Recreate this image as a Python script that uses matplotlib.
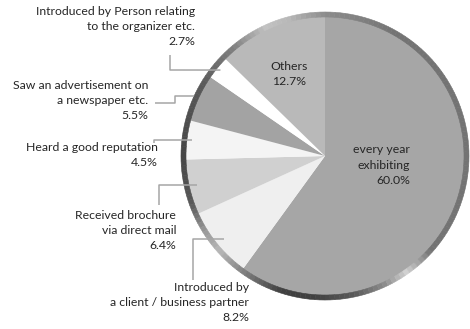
import numpy as np
import matplotlib
matplotlib.use("Agg")
from matplotlib import pyplot as plt

# slice values, clockwise from 12 o'clock
labels = ["every year\nexhibiting", "Introduced by\na client / business partner",
          "Received brochure\nvia direct mail", "Heard a good reputation",
          "Saw an advertisement on\na newspaper etc.",
          "Introduced by Person relating\nto the organizer etc.", "Others"]
values = [60.0, 8.2, 6.4, 4.5, 5.5, 2.7, 12.7]
colors = ["#a6a6a6", "#efefef", "#d0d0d0", "#f4f4f4", "#a3a3a3", "#ffffff", "#b9b9b9"]

plt.rcParams['font.family'] = ['Lato', 'DejaVu Sans']
TXT = "#262626"
LEAD = "#a6a6a6"

W, H = 470, 329
CX, CY, R = 325, 156, 144


def px(x, y):
    # pixel position -> data units (pie radius = 1)
    return (x - CX) / R, (CY - y) / R


fig = plt.figure(figsize=(W / 100, H / 100), dpi=100)
ax = fig.add_axes([0, 0, 1, 1])

rim = 5 / R
wedges, _ = ax.pie(values, colors=colors, startangle=90, counterclock=False,
                   radius=1 - rim + 0.005, wedgeprops=dict(linewidth=0))

# metallic rim
key_ang = [0, 30, 60, 90, 105, 115, 130, 150, 180, 200, 212, 222, 235, 252, 265, 282, 295, 305, 318, 340, 360]
key_val = [0.45, 0.45, 0.45, 0.55, 0.72, 0.76, 0.5, 0.35, 0.27, 0.35, 0.6, 0.72, 0.5, 0.25, 0.25, 0.35, 0.55, 0.82, 0.45, 0.45, 0.45]
n = 180
mids = (np.arange(n) + 0.5) * 360 / n
grays = np.interp(mids, key_ang, key_val)
rim_cols = [(g, g, g) for g in grays]
rw, _ = ax.pie([1] * n, colors=rim_cols, startangle=0, counterclock=True, radius=1,
               wedgeprops=dict(width=rim, linewidth=0.4))
for w, c in zip(rw, rim_cols):
    w.set_edgecolor(c)

# pie() resets limits, so set them afterwards
ax.set_xlim(px(0, 0)[0], px(W, 0)[0])
ax.set_ylim(px(0, H)[1], px(0, 0)[1])
ax.set_aspect('equal')
ax.axis('off')

fs = 8.8
ls = 1.45
# inside labels
ax.text(*px(410, 165), f"{labels[0]}\n{values[0]:.1f}%", ha='right', va='center',
        fontsize=fs, color=TXT, linespacing=ls)
ax.text(*px(289, 74), f"{labels[6]}\n{values[6]:.1f}%", ha='center', va='center',
        fontsize=fs, color=TXT, linespacing=ls)

# outside labels: (index, text right x, text top y, anchor radius, elbow path in px)
outside = [
    (5, 195, 6, 0.94, [(170, 70), (170, 55)]),
    (4, 148, 80, 1.0, [(175, None), (175, 103), (155, 103)]),
    (3, 158, 142, 0.93, [(154, None), (154, 143)]),
    (2, 176, 210, 0.91, [(159, None), (159, 205)]),
    (1, 249, 282, 0.91, [(193, None), (193, 280)]),
]

for i, tx, ty, ar, path in outside:
    w = wedges[i]
    mid = np.deg2rad((w.theta1 + w.theta2) / 2)
    ax0, ay0 = ar * np.cos(mid), ar * np.sin(mid)
    xs, ys = [ax0], [ay0]
    for (ex, ey) in path:
        dx = px(ex, 0)[0]
        dy = ys[-1] if ey is None else px(0, ey)[1]
        xs.append(dx)
        ys.append(dy)
    ax.plot(xs, ys, color=LEAD, lw=1.1, solid_capstyle='butt')
    ax.text(*px(tx, ty), f"{labels[i]}\n{values[i]:.1f}%", ha='right', va='top',
            multialignment='right', fontsize=fs, color=TXT, linespacing=ls)

fig.savefig("out.png", dpi=100)
